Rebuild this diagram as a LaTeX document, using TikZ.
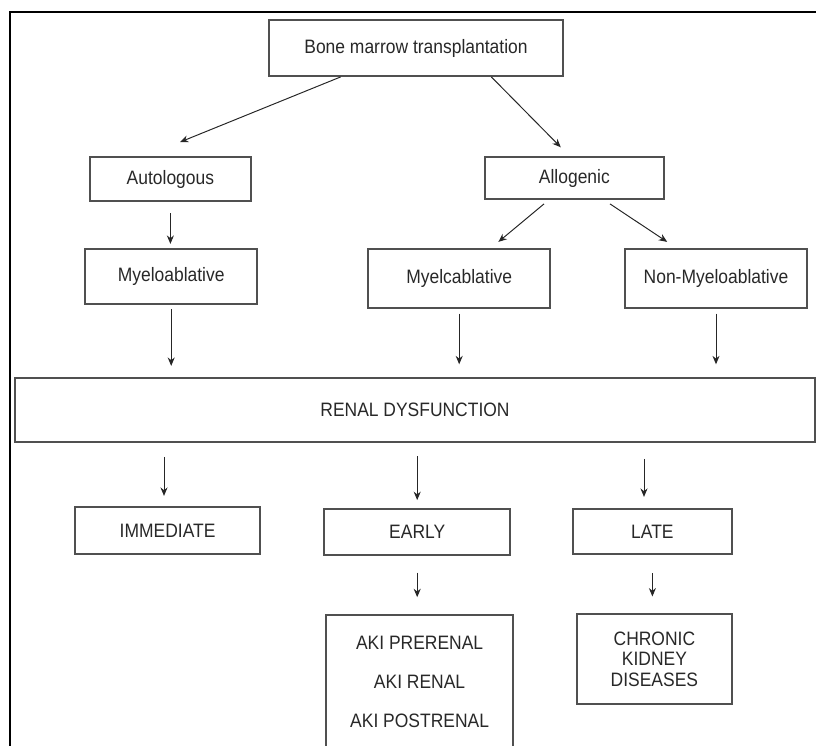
\documentclass[tikz,border=0pt]{standalone}
\usepackage{fontspec}
\setmainfont[FakeStretch=0.9]{Liberation Sans}
\usetikzlibrary{arrows.meta, positioning, calc}
\definecolor{boxgray}{RGB}{80,80,80}
\definecolor{txtgray}{RGB}{40,40,40}

\begin{document}
\begin{tikzpicture}[
  box/.style={draw=boxgray, rectangle, line width=1.3pt, align=center, inner sep=2pt, text=txtgray, font=\fontsize{13.8}{19}\selectfont},
  arr/.style={-{Stealth[length=6pt, width=5pt]}, line width=0.7pt, black!85},
]
  \useasboundingbox (0,0) rectangle (20.4,-18.65);
  \clip (0,0) rectangle (20.4,-18.65);

  % Frame
  \draw[line width=1.8pt] (0.25,-19) -- (0.25,-0.3) -- (21,-0.3);

  % Transplant types
  \node[box, minimum width=7.35cm, minimum height=1.4cm] (bmt) at (10.4,-1.2) {Bone marrow transplantation};
  \node[box, minimum width=4.03cm, minimum height=1.1cm] (auto) at (4.26,-4.475) {Autologous};
  \node[box, minimum width=4.48cm, minimum height=1.05cm] (allo) at (14.36,-4.45) {Allogenic};

  % Conditioning
  \node[box, minimum width=4.3cm, minimum height=1.38cm] (myeloA) at (4.28,-6.91) {Myeloablative};
  \node[box, minimum width=4.55cm, minimum height=1.48cm] (myeloB) at (11.48,-6.96) {Myelcablative};
  \node[box, minimum width=4.55cm, minimum height=1.48cm] (nonmyelo) at (17.9,-6.96) {Non-Myeloablative};

  % Renal dysfunction
  \node[box, minimum width=20cm, minimum height=1.6cm] (renal) at (10.375,-10.25) {RENAL DYSFUNCTION};

  % Timing
  \node[box, minimum width=4.63cm, minimum height=1.18cm] (immed) at (4.19,-13.26) {IMMEDIATE};
  \node[box, minimum width=4.65cm, minimum height=1.15cm] (early) at (10.43,-13.3) {EARLY};
  \node[box, minimum width=3.98cm, minimum height=1.13cm] (late) at (16.31,-13.29) {LATE};

  % Outcomes
  \node[box, minimum width=4.68cm, minimum height=3.35cm, anchor=north, font=\fontsize{13.8}{27.4}\selectfont] (aki) at (10.49,-15.35) {AKI PRERENAL\\AKI RENAL\\AKI POSTRENAL};
  \node[box, minimum width=3.88cm, minimum height=2.25cm, font=\fontsize{13.8}{14.8}\selectfont] (ckd) at (16.36,-16.48) {CHRONIC\\KIDNEY\\DISEASES};

  % Connections
  \draw[arr] (bmt.201) -- ($(auto.north)+(0.24,0.35)$);
  \draw[arr] (bmt.339) -- ($(allo.north)+(-0.34,0.22)$);
  \draw[arr] ($(allo.south)+(-0.76,-0.1)$) -- ($(myeloB.north)+(0.98,0.15)$);
  \draw[arr] ($(allo.south)+(0.89,-0.1)$) -- ($(nonmyelo.north)+(-1.22,0.15)$);
  \draw[arr, shorten <=0.28cm, shorten >=0.1cm] (auto.south) -- (auto.south |- myeloA.north);
  \draw[arr, shorten <=0.1cm, shorten >=0.28cm] (myeloA.south) -- (myeloA.south |- renal.north);
  \draw[arr, shorten <=0.12cm, shorten >=0.32cm] (myeloB.south) -- (myeloB.south |- renal.north);
  \draw[arr, shorten <=0.12cm, shorten >=0.32cm] (nonmyelo.south) -- (nonmyelo.south |- renal.north);
  \draw[arr, shorten <=0.35cm, shorten >=0.25cm] (renal.south -| immed.north) ++(-0.09,0) coordinate (ri) (ri) -- (ri |- immed.north);
  \draw[arr, shorten <=0.33cm, shorten >=0.2cm] (renal.south -| early.north) -- (early.north);
  \draw[arr, shorten <=0.4cm, shorten >=0.28cm] (renal.south -| late.north) ++(-0.21,0) coordinate (rl) (rl) -- (rl |- late.north);
  \draw[arr, shorten <=0.42cm, shorten >=0.42cm] (early.south) -- (early.south |- aki.north);
  \draw[arr, shorten <=0.45cm, shorten >=0.42cm] (late.south) -- (late.south |- ckd.north);
\end{tikzpicture}
\end{document}
